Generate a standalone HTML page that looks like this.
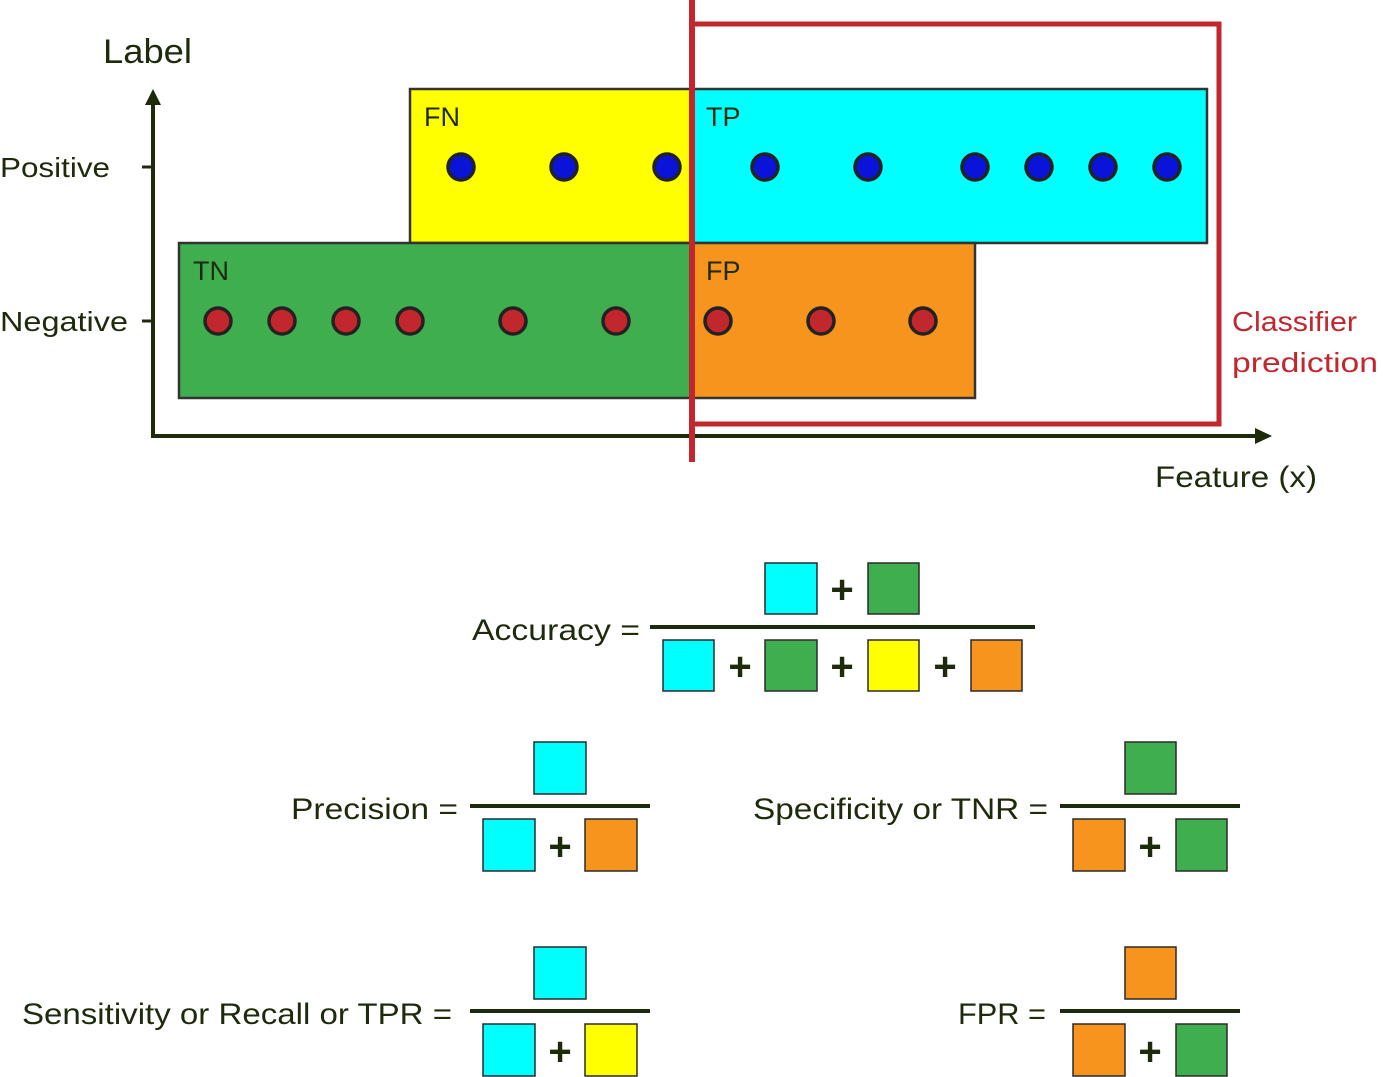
<!DOCTYPE html>
<html><head><meta charset="utf-8"><style>
html,body{margin:0;padding:0;background:#fff;}
svg{display:block;}
text{font-family:"Liberation Sans","DejaVu Sans",sans-serif;fill:#1d2b0c;}
.sq{stroke:#2a2a2a;stroke-width:1.5;}
.pl{font-size:40px;font-weight:bold;}
</style></head><body>
<svg width="1400" height="1077" viewBox="0 0 1400 1077" xmlns="http://www.w3.org/2000/svg">
<!-- axes -->
<line x1="153" y1="100" x2="153" y2="437" stroke="#1d2b0c" stroke-width="4"/>
<polygon points="153,89 145,105 161,105" fill="#1d2b0c"/>
<line x1="151" y1="436" x2="1258" y2="436" stroke="#1d2b0c" stroke-width="4"/>
<polygon points="1272,436 1255,428 1255,444" fill="#1d2b0c"/>
<line x1="142" y1="167" x2="153" y2="167" stroke="#1d2b0c" stroke-width="3"/>
<line x1="142" y1="321" x2="153" y2="321" stroke="#1d2b0c" stroke-width="3"/>
<!-- rects -->
<rect x="410" y="89" width="282" height="154" fill="#ffff00" stroke="#333" stroke-width="2.5"/>
<rect x="692" y="89" width="515" height="154" fill="#00ffff" stroke="#333" stroke-width="2.5"/>
<rect x="179" y="243" width="513" height="155" fill="#3fae4f" stroke="#333" stroke-width="2.5"/>
<rect x="692" y="243" width="283" height="155" fill="#f7941d" stroke="#333" stroke-width="2.5"/>
<!-- red -->
<rect x="692" y="24" width="527" height="400" fill="none" stroke="#c1272d" stroke-width="5"/>
<line x1="692" y1="0" x2="692" y2="462" stroke="#c1272d" stroke-width="6"/>
<!-- dots -->
<g fill="#0a14d8" stroke="#222" stroke-width="3.5">
<circle cx="461" cy="167" r="13"/><circle cx="564" cy="167" r="13"/><circle cx="667" cy="167" r="13"/>
<circle cx="765" cy="167" r="13"/><circle cx="868" cy="167" r="13"/><circle cx="975" cy="167" r="13"/>
<circle cx="1039" cy="167" r="13"/><circle cx="1103" cy="167" r="13"/><circle cx="1167" cy="167" r="13"/>
</g>
<g fill="#c1272d" stroke="#222" stroke-width="3.5">
<circle cx="218" cy="321" r="13"/><circle cx="282" cy="321" r="13"/><circle cx="346" cy="321" r="13"/>
<circle cx="410" cy="321" r="13"/><circle cx="513" cy="321" r="13"/><circle cx="616" cy="321" r="13"/>
<circle cx="718" cy="321" r="13"/><circle cx="821" cy="321" r="13"/><circle cx="923" cy="321" r="13"/>
</g>
<!-- labels -->
<text x="103" y="63" font-size="34" textLength="89" lengthAdjust="spacingAndGlyphs">Label</text>
<text x="0" y="177" font-size="28" textLength="110" lengthAdjust="spacingAndGlyphs">Positive</text>
<text x="0" y="331" font-size="28" textLength="128" lengthAdjust="spacingAndGlyphs">Negative</text>
<text x="424" y="126" font-size="27">FN</text>
<text x="706" y="126" font-size="27">TP</text>
<text x="193" y="280" font-size="27">TN</text>
<text x="706" y="280" font-size="27">FP</text>
<text x="1232" y="331" font-size="28" style="fill:#c1272d" textLength="125" lengthAdjust="spacingAndGlyphs">Classifier</text>
<text x="1232" y="372" font-size="28" style="fill:#c1272d" textLength="146" lengthAdjust="spacingAndGlyphs">prediction</text>
<text x="1155" y="487" font-size="30" textLength="162" lengthAdjust="spacingAndGlyphs">Feature (x)</text>
<!-- Accuracy -->
<text x="472" y="640" font-size="30" textLength="168" lengthAdjust="spacingAndGlyphs">Accuracy =</text>
<line x1="650" y1="627" x2="1035" y2="627" stroke="#1d2b0c" stroke-width="4"/>
<rect class="sq" x="765" y="563" width="52" height="51" fill="#00ffff"/>
<text class="pl" x="842" y="603" text-anchor="middle">+</text>
<rect class="sq" x="868" y="563" width="51" height="51" fill="#3fae4f"/>
<rect class="sq" x="663" y="640" width="51" height="51" fill="#00ffff"/>
<text class="pl" x="740" y="680" text-anchor="middle">+</text>
<rect class="sq" x="765" y="640" width="52" height="51" fill="#3fae4f"/>
<text class="pl" x="842" y="680" text-anchor="middle">+</text>
<rect class="sq" x="868" y="640" width="51" height="51" fill="#ffff00"/>
<text class="pl" x="945" y="680" text-anchor="middle">+</text>
<rect class="sq" x="971" y="640" width="51" height="51" fill="#f7941d"/>
<!-- Precision -->
<text x="291" y="819" font-size="30" textLength="167" lengthAdjust="spacingAndGlyphs">Precision =</text>
<line x1="470" y1="806" x2="650" y2="806" stroke="#1d2b0c" stroke-width="4"/>
<rect class="sq" x="534" y="742" width="52" height="52" fill="#00ffff"/>
<rect class="sq" x="483" y="819" width="52" height="52" fill="#00ffff"/>
<text class="pl" x="560" y="860" text-anchor="middle">+</text>
<rect class="sq" x="585" y="819" width="52" height="52" fill="#f7941d"/>
<!-- Specificity -->
<text x="753" y="819" font-size="30" textLength="295" lengthAdjust="spacingAndGlyphs">Specificity or TNR =</text>
<line x1="1060" y1="806" x2="1240" y2="806" stroke="#1d2b0c" stroke-width="4"/>
<rect class="sq" x="1125" y="742" width="51" height="52" fill="#3fae4f"/>
<rect class="sq" x="1073" y="819" width="52" height="52" fill="#f7941d"/>
<text class="pl" x="1150" y="860" text-anchor="middle">+</text>
<rect class="sq" x="1176" y="819" width="51" height="52" fill="#3fae4f"/>
<!-- Sensitivity -->
<text x="22" y="1024" font-size="30" textLength="430" lengthAdjust="spacingAndGlyphs">Sensitivity or Recall or TPR =</text>
<line x1="470" y1="1011" x2="650" y2="1011" stroke="#1d2b0c" stroke-width="4"/>
<rect class="sq" x="534" y="947" width="52" height="52" fill="#00ffff"/>
<rect class="sq" x="483" y="1024" width="52" height="52" fill="#00ffff"/>
<text class="pl" x="560" y="1065" text-anchor="middle">+</text>
<rect class="sq" x="585" y="1024" width="52" height="52" fill="#ffff00"/>
<!-- FPR -->
<text x="958" y="1024" font-size="30" textLength="88" lengthAdjust="spacingAndGlyphs">FPR =</text>
<line x1="1060" y1="1011" x2="1240" y2="1011" stroke="#1d2b0c" stroke-width="4"/>
<rect class="sq" x="1125" y="947" width="51" height="52" fill="#f7941d"/>
<rect class="sq" x="1073" y="1024" width="52" height="52" fill="#f7941d"/>
<text class="pl" x="1150" y="1065" text-anchor="middle">+</text>
<rect class="sq" x="1176" y="1024" width="51" height="52" fill="#3fae4f"/>
</svg>
</body></html>
